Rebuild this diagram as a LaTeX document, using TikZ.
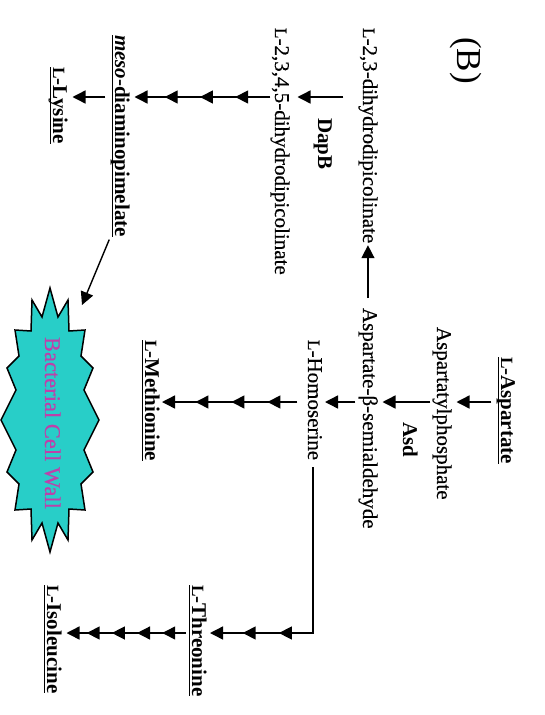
\documentclass[tikz,border=0pt]{standalone}
\usepackage{fontspec}
\setmainfont{Liberation Serif}
\usetikzlibrary{arrows.meta,decorations.markings,calc}

% word-processor style underline, close to the baseline
\newcommand\ulbar[1]{\setbox0\hbox{#1}\rlap{\rule[-3.5pt]{\wd0}{0.9pt}}\box0}
% small-capital L prefix
\newcommand\Lsc{\scalebox{0.82}{L}}

\definecolor{wallfill}{RGB}{40,206,200}
\definecolor{wallink}{RGB}{190,64,170}

\tikzset{
  lbl/.style={rotate=-90, anchor=base west, inner sep=0pt, outer sep=0pt,
    font=\fontsize{21}{24}\selectfont\addfontfeature{FakeBold=0.4},
    text height=14.5pt, text depth=4.6pt},
  enz/.style={lbl, font=\fontsize{21}{24}\selectfont\bfseries},
  prod/.style={lbl, font=\fontsize{21}{24}\selectfont\bfseries},
  conn/.style={line width=1.4pt, -{Triangle[length=13pt,width=13pt]},
    shorten <=5pt, shorten >=5pt},
  tips2/.style={postaction={decorate}, decoration={markings,
    mark=at position 0.32 with {\arrow{Triangle[length=13pt,width=13pt]}},
    mark=at position 0.66 with {\arrow{Triangle[length=13pt,width=13pt]}}}},
  tips3/.style={postaction={decorate}, decoration={markings,
    mark=at position 0.25 with {\arrow{Triangle[length=13pt,width=13pt]}},
    mark=at position 0.5 with {\arrow{Triangle[length=13pt,width=13pt]}},
    mark=at position 0.75 with {\arrow{Triangle[length=13pt,width=13pt]}}}},
  tips4/.style={postaction={decorate}, decoration={markings,
    mark=at position 0.2 with {\arrow{Triangle[length=13pt,width=13pt]}},
    mark=at position 0.4 with {\arrow{Triangle[length=13pt,width=13pt]}},
    mark=at position 0.6 with {\arrow{Triangle[length=13pt,width=13pt]}},
    mark=at position 0.8 with {\arrow{Triangle[length=13pt,width=13pt]}}}},
}

\begin{document}
\begin{tikzpicture}[x=1pt,y=-1pt]
\useasboundingbox (0,0) rectangle (544,715);

% rows along which the pathway arrows run
\coordinate (rowA) at (0,97);
\coordinate (rowB) at (0,402);
\coordinate (rowT) at (0,633);
\coordinate (wallTip) at (82,305);

% panel tag
\node[lbl, font=\fontsize{35}{40}\selectfont, text height=, text depth=] (tag) at (457,37) {(B)};

% metabolites and enzymes
\node[lbl]  (l23)   at (363,28)  {\Lsc-2,3-dihydrodipicolinate};
\node[enz]  (dapb)  at (318,118) {DapB};
\node[lbl]  (l2345) at (275,28)  {\Lsc-2,3,4,5-dihydrodipicolinate};
\node[prod] (meso)  at (115,35)  {\ulbar{\textit{meso}-diaminopimelate}};
\node[prod] (lys)   at (53,67)   {\ulbar{\Lsc-Lysine}};
\node[prod] (asp)   at (501,357) {\ulbar{\Lsc-Aspartate}};
\node[lbl]  (aph)   at (437,327) {Aspartatylphosphate};
\node[enz]  (asd)   at (403,422) {Asd};
\node[lbl]  (asb)   at (363,308) {Aspartate-β-semialdehyde};
\node[lbl]  (hom)   at (308,340) {\Lsc-Homoserine};
\node[prod] (met)   at (145,340) {\ulbar{\Lsc-Methionine}};
\node[prod] (thr)   at (192,585) {\ulbar{\Lsc-Threonine}};
\node[prod] (iso)   at (47,585)  {\ulbar{\Lsc-Isoleucine}};

% cell wall burst
\draw[line width=1.5pt, fill=wallfill, line join=miter]
  (50,288) -- (58,317) -- (68,300) -- (69,331) -- (85,330) -- (81,356)
  -- (93,368) -- (84,390) -- (99,420) -- (84,450) -- (93,472) -- (81,484)
  -- (85,510) -- (69,509) -- (68,540) -- (58,523) -- (50,552) -- (42,523)
  -- (32,540) -- (31,509) -- (15,510) -- (19,484) -- (7,472) -- (16,450)
  -- (1,420) -- (16,390) -- (7,368) -- (19,356) -- (15,330) -- (31,331)
  -- (32,300) -- (42,317) -- cycle;
\node[lbl, text=wallink, font=\fontsize{22.5}{24}\selectfont\addfontfeature{FakeBold=0.4}] (wall) at (45,337) {Bacterial Cell Wall};

% lysine branch
\draw[conn, shorten <=15pt, shorten >=8pt] (l23.south |- rowA) -- (l2345.north |- rowA);
\draw[conn, tips3, shorten <=0pt] (l2345.south |- rowA) -- (meso.north |- rowA);
\draw[conn] (meso.south |- rowA) -- (lys.north |- rowA);
\draw[conn, shorten <=3pt, shorten >=0pt] (meso.south east) -- (wallTip);

% aspartate trunk
\draw[conn] (asp.south |- rowB) -- (aph.north |- rowB);
\draw[conn, shorten <=2pt] (aph.south |- rowB) -- (asb.north |- rowB);
\draw[conn, shorten <=10pt, shorten >=2pt] (asb.west) -- (asb.west |- l23.east);
\draw[conn, shorten <=3pt, shorten >=2.5pt] (asb.south |- rowB) -- (hom.north |- rowB);
\draw[conn, tips3, shorten <=6pt, shorten >=2.5pt] (hom.south |- rowB) -- (met.north |- rowB);

% threonine / isoleucine branch
\draw[line width=1.4pt, line cap=rect, shorten <=8pt] (hom.east) -- (hom.east |- rowT);
\draw[conn, tips2, shorten <=0pt, shorten >=3.5pt] (hom.east |- rowT) -- (thr.north |- rowT);
\draw[conn, tips4, shorten <=1.5pt] (thr.south |- rowT) -- (iso.north |- rowT);
\end{tikzpicture}
\end{document}
